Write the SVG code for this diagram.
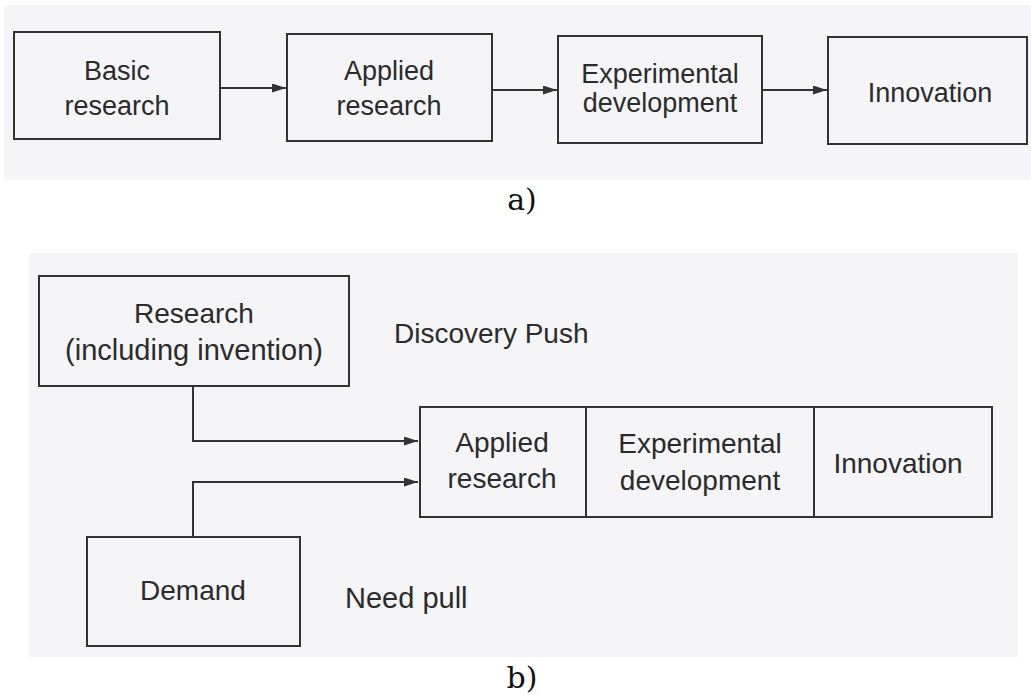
<svg xmlns="http://www.w3.org/2000/svg" width="1031" height="695" viewBox="0 0 1031 695">
<defs>
<style>
.panel{fill:#f5f5f8}
.box{fill:none;stroke:#333;stroke-width:2}
.con{fill:none;stroke:#333;stroke-width:2}
.t{font-family:"Liberation Sans",Arial,sans-serif;fill:#2b2b2b;text-anchor:middle}
.a{font-size:27px}
.b{font-size:28px}
.lbl{font-family:"DejaVu Serif","Liberation Serif",serif;font-size:30px;fill:#111;text-anchor:middle}
</style>
<marker id="ah" viewBox="0 0 14 9" refX="14" refY="4.5" markerWidth="14" markerHeight="9" markerUnits="userSpaceOnUse" orient="auto">
<path d="M0,0 L14,4.5 L0,9 Z" fill="#333"/>
</marker>
</defs>
<rect width="1031" height="695" fill="#ffffff"/>
<rect class="panel" x="4" y="5" width="1027" height="175"/>
<rect class="panel" x="29" y="253" width="989" height="404"/>

<g id="connectors">
<line class="con" x1="220" y1="88" x2="286" y2="88" marker-end="url(#ah)"/>
<line class="con" x1="492" y1="90" x2="557" y2="90" marker-end="url(#ah)"/>
<line class="con" x1="762" y1="90" x2="827" y2="90" marker-end="url(#ah)"/>
<polyline class="con" points="193,386 193,441 418,441" marker-end="url(#ah)"/>
<polyline class="con" points="193,537 193,482 418,482" marker-end="url(#ah)"/>
</g>

<g id="a-basic">
<rect class="box" x="14" y="32" width="206" height="107"/>
<text class="t a" x="117" y="80">Basic</text>
<text class="t a" x="117" y="115">research</text>
</g>
<g id="a-applied">
<rect class="box" x="287" y="34" width="205" height="107"/>
<text class="t a" x="389" y="80">Applied</text>
<text class="t a" x="389" y="115">research</text>
</g>
<g id="a-experimental">
<rect class="box" x="558" y="36" width="204" height="107"/>
<text class="t a" x="660" y="83">Experimental</text>
<text class="t a" x="660" y="112">development</text>
</g>
<g id="a-innovation">
<rect class="box" x="828" y="37" width="199" height="107"/>
<text class="t a" x="930" y="102">Innovation</text>
</g>
<text class="lbl" x="522" y="210">a)</text>

<g id="b-research">
<rect class="box" x="39" y="276" width="310" height="110"/>
<text class="t b" x="194" y="323">Research</text>
<text class="t b" x="194" y="360" style="font-size:29px">(including invention)</text>
</g>
<text class="t b" x="394" y="343" style="text-anchor:start">Discovery Push</text>

<g id="b-chain">
<rect class="box" x="420" y="407" width="572" height="110"/>
<line class="box" x1="586" y1="407" x2="586" y2="517"/>
<line class="box" x1="814" y1="407" x2="814" y2="517"/>
<text class="t b" x="502" y="452">Applied</text>
<text class="t b" x="502" y="488">research</text>
<text class="t b" x="700" y="453">Experimental</text>
<text class="t b" x="700" y="490">development</text>
<text class="t b" x="898" y="473">Innovation</text>
</g>

<g id="b-demand">
<rect class="box" x="87" y="537" width="213" height="109"/>
<text class="t b" x="193" y="600">Demand</text>
</g>
<text class="t b" x="345" y="608" style="text-anchor:start;font-size:29px">Need pull</text>
<text class="lbl" x="522" y="688">b)</text>
</svg>
